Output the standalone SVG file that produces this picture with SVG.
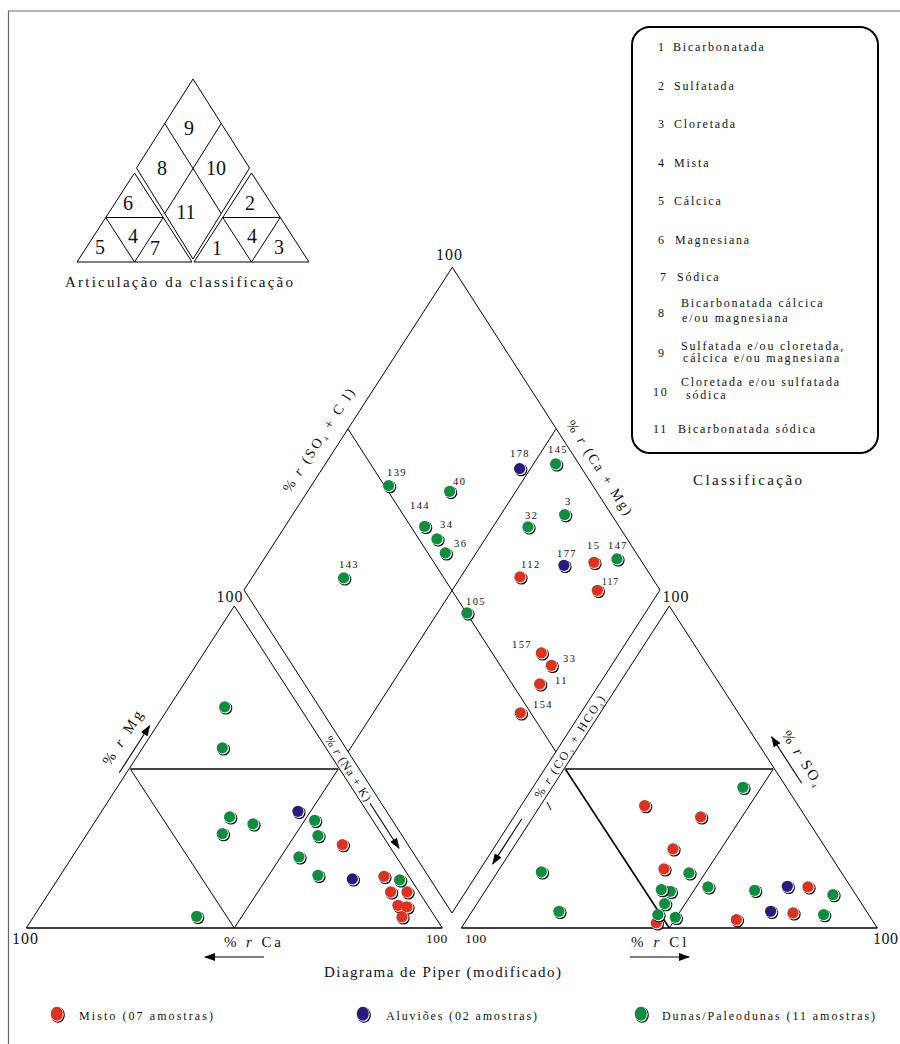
<svg xmlns="http://www.w3.org/2000/svg" width="900" height="1044" viewBox="0 0 900 1044">
<style>
.ln{stroke:#000;fill:none;stroke-width:1}
.bs{stroke:#000;fill:none;stroke-width:1.6}
.md{stroke:#444;fill:none;stroke-width:2.2}
.t{font-family:"Liberation Serif","Times New Roman",serif;fill:#111}
.lg{font-size:12px;letter-spacing:1.8px}
.pl{font-size:10.5px;letter-spacing:1.4px}
.n16{font-size:16px;letter-spacing:1px}
.sd{font-size:20px}
</style>
<defs>
<marker id="ah" markerWidth="11" markerHeight="8" refX="10" refY="4" orient="auto" markerUnits="userSpaceOnUse"><path d="M0,0 L11,4 L0,8 z" fill="#000"/></marker>
<g id="pR"><circle cx="1" cy="1" r="6.3" fill="#000"/><circle cx="0.3" cy="0.3" r="6" fill="#fff"/><circle cx="-0.4" cy="-0.4" r="5.6" fill="#e0301e"/></g>
<g id="pG"><circle cx="1" cy="1" r="6.3" fill="#000"/><circle cx="0.3" cy="0.3" r="6" fill="#fff"/><circle cx="-0.4" cy="-0.4" r="5.6" fill="#0a8f3f"/></g>
<g id="pB"><circle cx="1" cy="1" r="6.3" fill="#000"/><circle cx="0.3" cy="0.3" r="6" fill="#fff"/><circle cx="-0.4" cy="-0.4" r="5.6" fill="#2a1a80"/></g>
</defs>
<rect width="900" height="1044" fill="#fff"/>
<path d="M8.5,1044 V11 H900" fill="none" stroke="#666" stroke-width="1.2"/>

<g id="articulacao">
<path class="ln" d="M193,79 L249.5,168 L193,259 L136.5,168 Z M164.75,123.5 L221.25,213.5 M221.25,123.5 L164.75,213.5"/>
<path class="ln" d="M77,262 L134.5,173 L192,262 Z M105.75,217.5 H163.25 M105.75,217.5 L134.5,262 L163.25,217.5"/>
<path class="ln" d="M194,262 L251.5,173 L309,262 Z M222.75,217.5 H280.25 M222.75,217.5 L251.5,262 L280.25,217.5"/>
<g class="t sd" text-anchor="middle">
<text x="189" y="135">9</text><text x="162" y="175">8</text><text x="216" y="175">10</text><text x="186" y="219">11</text>
<text x="128" y="210">6</text><text x="250" y="210">2</text>
<text x="100" y="254">5</text><text x="133" y="243">4</text><text x="155" y="255">7</text>
<text x="217" y="255">1</text><text x="252" y="243">4</text><text x="279" y="254">3</text>
</g>
<text class="t" x="65" y="287" font-size="15" textLength="228" lengthAdjust="spacing">Articulação da classificação</text>
</g>

<g id="classificacao">
<rect x="632" y="27" width="246" height="426" rx="18" fill="none" stroke="#000" stroke-width="2"/>
<g class="t lg">
<text x="658" y="51">1</text><text x="673" y="51">Bicarbonatada</text>
<text x="658" y="90">2</text><text x="674" y="90">Sulfatada</text>
<text x="658" y="128">3</text><text x="674" y="128">Cloretada</text>
<text x="658" y="167">4</text><text x="674" y="167">Mista</text>
<text x="658" y="205">5</text><text x="674" y="205">Cálcica</text>
<text x="658" y="244">6</text><text x="675" y="244">Magnesiana</text>
<text x="660" y="281">7</text><text x="677" y="281">Sódica</text>
<text x="658" y="317">8</text><text x="681" y="307">Bicarbonatada cálcica</text><text x="682" y="322">e/ou magnesiana</text>
<text x="658" y="357">9</text><text x="681" y="349.5">Sulfatada e/ou cloretada,</text><text x="683" y="362">cálcica e/ou magnesiana</text>
<text x="653" y="396">10</text><text x="681" y="386">Cloretada e/ou sulfatada</text><text x="686" y="399">sódica</text>
<text x="653" y="433">11</text><text x="678" y="433">Bicarbonatada sódica</text>
</g>
<text class="t" x="693" y="485" font-size="15" textLength="109" lengthAdjust="spacing">Classificação</text>
</g>

<g id="piper-frame">
<path class="ln" d="M452.3,267.3 L660,590 L452,913 L244,590 Z M348,429 L556,752 M556,429 L348,752"/>
<path class="ln" d="M26.3,928 L234.3,606 L442.3,928 M130.3,769 L234.3,928 L338.3,769"/>
<path class="bs" d="M26.3,928 H442.3"/>
<path class="md" d="M130.3,769 H338.3"/>
<path class="ln" d="M461.3,928 L669.3,606 L877.3,928 M773.3,769 L669.3,928"/>
<path class="bs" d="M461.3,928 H877.3 M565.3,769 L669.3,928"/>
<path class="md" d="M565.3,769 H773.3"/>
<path class="ln" d="M547,802 L551,810"/>
</g>

<g id="axis-labels" class="t">
<text class="n16" x="449.5" y="260" text-anchor="middle">100</text>
<text class="n16" x="230" y="601.5" text-anchor="middle">100</text>
<text class="n16" x="676" y="601.5" text-anchor="middle">100</text>
<text class="n16" x="12" y="944">100</text>
<text x="426" y="943" font-size="13.5" letter-spacing="0.5">100</text>
<text x="465" y="943" font-size="13.5" letter-spacing="0.5">100</text>
<text x="873" y="944" font-size="16" letter-spacing="0.5">100</text>
<text transform="translate(319,439) rotate(-57.2)" y="5" text-anchor="middle" font-size="14" letter-spacing="2.4">% <tspan font-style="italic">r</tspan> (SO<tspan font-size="7" dy="3">4</tspan><tspan dy="-3"> + C l)</tspan></text>
<text transform="translate(600.3,468.3) rotate(57.2)" y="5" text-anchor="middle" font-size="14" letter-spacing="2.2">% <tspan font-style="italic">r</tspan> (Ca + Mg)</text>
<text transform="translate(348.5,769) rotate(57.2)" y="4" text-anchor="middle" font-size="12" letter-spacing="1">% <tspan font-style="italic">r</tspan> (Na + K)</text>
<text transform="translate(570,746) rotate(-57.2)" y="4" text-anchor="middle" font-size="12" letter-spacing="2">% <tspan font-style="italic">r</tspan> (CO<tspan font-size="6" dy="3">3</tspan><tspan dy="-3"> + HCO</tspan><tspan font-size="6" dy="3">3</tspan><tspan dy="-3">)</tspan></text>
<text transform="translate(123.3,736.7) rotate(-57.2)" y="5" text-anchor="middle" font-size="15" letter-spacing="3">% <tspan font-style="italic">r</tspan> Mg</text>
<text transform="translate(803,759) rotate(57.2)" y="5" text-anchor="middle" font-size="15" letter-spacing="2.3">% <tspan font-style="italic">r</tspan> SO<tspan font-size="7" dy="3">4</tspan></text>
<text x="224" y="947" font-size="15" letter-spacing="2.9">% <tspan font-style="italic">r</tspan> Ca</text>
<text x="631" y="947" font-size="15" letter-spacing="3.1">% <tspan font-style="italic">r</tspan> Cl</text>
<text x="324" y="977" font-size="15" textLength="237" lengthAdjust="spacing">Diagrama de Piper (modificado)</text>
</g>

<g id="arrows" stroke="#000" stroke-width="1.1" fill="none" marker-end="url(#ah)">
<line x1="119.3" y1="772.7" x2="149.6" y2="725.8"/>
<line x1="370" y1="803.3" x2="399" y2="848.2"/>
<line x1="521.7" y1="819" x2="492.7" y2="863.9"/>
<line x1="801.7" y1="783.3" x2="771.7" y2="736.9"/>
<line x1="264" y1="957" x2="205" y2="957"/>
<line x1="630" y1="957" x2="689" y2="957"/>
</g>

<g id="points-diamond">
<use href="#pB" x="520" y="469"/><use href="#pG" x="556" y="464.3"/><use href="#pG" x="389" y="486"/>
<use href="#pG" x="450" y="491.7"/><use href="#pG" x="425" y="526.7"/><use href="#pG" x="437.3" y="539.3"/>
<use href="#pG" x="445.7" y="553.3"/><use href="#pG" x="565" y="515"/><use href="#pG" x="528.3" y="527.3"/>
<use href="#pB" x="564.3" y="565.7"/><use href="#pR" x="594.3" y="562.7"/><use href="#pG" x="617.3" y="559.3"/>
<use href="#pR" x="520.3" y="577.3"/><use href="#pR" x="597.7" y="590.7"/><use href="#pG" x="467.3" y="613.3"/>
<use href="#pR" x="541.7" y="653.3"/><use href="#pR" x="551.7" y="665.7"/><use href="#pR" x="540" y="684.3"/>
<use href="#pR" x="520.7" y="713.3"/><use href="#pG" x="344" y="578.3"/>
<g class="t pl">
<text x="510" y="457">178</text><text x="548" y="453">145</text><text x="387" y="476">139</text>
<text x="453" y="485">40</text><text x="410" y="509">144</text><text x="440" y="528">34</text>
<text x="454" y="547">36</text><text x="565" y="505">3</text><text x="525" y="519">32</text>
<text x="557" y="557">177</text><text x="587" y="549">15</text><text x="608" y="549">147</text>
<text x="521" y="568">112</text><text x="602" y="585" font-size="9.5" letter-spacing="1">117</text><text x="466" y="605">105</text>
<text x="512" y="648">157</text><text x="563" y="662">33</text><text x="555" y="684">11</text>
<text x="533" y="708">154</text><text x="339" y="568">143</text>
</g>
</g>

<g id="points-cations">
<use href="#pG" x="225" y="707.3"/><use href="#pG" x="222.7" y="748.3"/><use href="#pG" x="230" y="817.3"/>
<use href="#pG" x="253.3" y="824.3"/><use href="#pG" x="222.7" y="834"/><use href="#pB" x="298.3" y="811.7"/>
<use href="#pG" x="315" y="820.7"/><use href="#pG" x="318.3" y="836"/><use href="#pR" x="342.7" y="845"/>
<use href="#pG" x="299.3" y="857.3"/><use href="#pG" x="318.3" y="875.7"/><use href="#pB" x="352.7" y="879.3"/>
<use href="#pR" x="384.3" y="876.7"/><use href="#pG" x="400" y="880.3"/><use href="#pR" x="391" y="892.3"/>
<use href="#pR" x="407.3" y="892.3"/><use href="#pR" x="398.3" y="905.7"/><use href="#pR" x="407.3" y="907.3"/>
<use href="#pR" x="402.3" y="917.3"/><use href="#pG" x="197" y="916.7"/>
</g>

<g id="points-anions">
<use href="#pG" x="743.3" y="787.7"/><use href="#pR" x="645" y="806"/><use href="#pR" x="701" y="817.3"/>
<use href="#pR" x="673.3" y="849.3"/><use href="#pR" x="664.3" y="869.3"/><use href="#pG" x="689.3" y="873.3"/>
<use href="#pG" x="541.7" y="872.3"/><use href="#pG" x="708.3" y="887.3"/><use href="#pG" x="670.7" y="891.7"/>
<use href="#pG" x="661.7" y="890"/><use href="#pG" x="755" y="890.7"/><use href="#pB" x="787.7" y="886.7"/>
<use href="#pR" x="808.3" y="887.3"/><use href="#pG" x="833.3" y="895"/><use href="#pG" x="665" y="904"/>
<use href="#pG" x="559.3" y="911.7"/><use href="#pB" x="771" y="911.7"/><use href="#pR" x="793.3" y="913.3"/>
<use href="#pG" x="824" y="915"/><use href="#pR" x="736.7" y="920"/><use href="#pR" x="656.7" y="923.3"/>
<use href="#pG" x="658.3" y="915"/><use href="#pG" x="675.7" y="917.7"/>
</g>

<g id="legend">
<g><ellipse cx="58" cy="1015" rx="6.8" ry="7.8" fill="#000"/><ellipse cx="57.3" cy="1014.3" rx="6.4" ry="7.4" fill="#fff"/><ellipse cx="56.8" cy="1013.8" rx="6" ry="7" fill="#e0301e"/></g>
<text class="t" x="79" y="1020" font-size="12" textLength="134" lengthAdjust="spacing">Misto  (07 amostras)</text>
<g><ellipse cx="364" cy="1015" rx="6.8" ry="7.8" fill="#000"/><ellipse cx="363.3" cy="1014.3" rx="6.4" ry="7.4" fill="#fff"/><ellipse cx="362.8" cy="1013.8" rx="6" ry="7" fill="#2a1a80"/></g>
<text class="t" x="386" y="1020" font-size="12" textLength="151" lengthAdjust="spacing">Aluviões (02 amostras)</text>
<g><ellipse cx="642" cy="1015" rx="6.8" ry="7.8" fill="#000"/><ellipse cx="641.3" cy="1014.3" rx="6.4" ry="7.4" fill="#fff"/><ellipse cx="640.8" cy="1013.8" rx="6" ry="7" fill="#0a8f3f"/></g>
<text class="t" x="662" y="1020" font-size="12" textLength="213" lengthAdjust="spacing">Dunas/Paleodunas (11 amostras)</text>
</g>
</svg>
